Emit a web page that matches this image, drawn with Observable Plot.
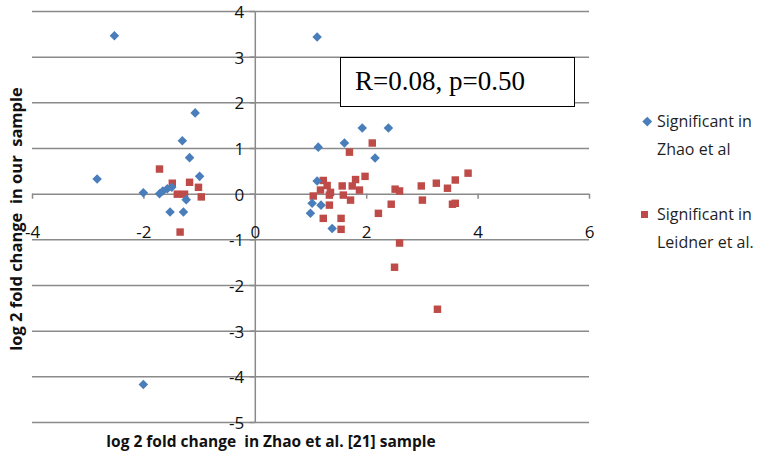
<!DOCTYPE html>
<html><head><meta charset="utf-8">
<script src="https://cdn.jsdelivr.net/npm/d3@7"></script>
<script src="https://cdn.jsdelivr.net/npm/@observablehq/plot@0.6"></script>
<style>
html,body{margin:0;padding:0;background:#fff;}
#wrap{position:relative;width:782px;height:459px;overflow:hidden;background:#fff;}
#wrap svg{position:absolute;left:0;top:0;}
.stat{position:absolute;left:340px;top:57px;width:235px;height:50px;border:1.5px solid #000;background:#fff;
  font-family:"Liberation Serif","Times New Roman",serif;font-size:27px;line-height:47px;padding-left:14px;box-sizing:border-box;color:#000;}
.leg{position:absolute;left:657px;font-family:"Open Sans",sans-serif;font-size:16px;line-height:28px;color:#1f1f1f;}
.sym{position:absolute;}
</style></head><body>
<div id="wrap"></div>
<script>
const zhaoX = [-2.53,-2.84,-1.08,-1.31,-1.18,-1.0,-2.01,-1.72,-1.66,-1.58,-1.5,-1.24,-1.53,-1.29,-2.01,1.11,1.92,2.39,1.13,1.6,2.15,1.11,1.02,1.18,0.99,1.38];
const zhaoY = [3.47,0.33,1.78,1.17,0.8,0.39,0.03,0.01,0.07,0.12,0.15,-0.12,-0.39,-0.39,-4.17,3.44,1.45,1.45,1.03,1.12,0.79,0.29,-0.2,-0.24,-0.42,-0.75];
const leidnerX = [-1.72,-1.49,-1.18,-1.02,-1.4,-1.27,-0.97,-1.35,2.1,1.69,1.97,1.8,1.22,1.29,1.56,1.74,1.87,1.17,1.35,1.04,1.58,1.33,1.71,1.33,1.22,1.54,1.54,2.21,2.44,2.51,2.59,2.59,2.98,3.0,3.25,3.45,3.59,3.82,3.54,3.59,2.5,3.27];
const leidnerY = [0.55,0.24,0.26,0.15,0.0,0.0,-0.06,-0.83,1.12,0.92,0.39,0.32,0.3,0.19,0.18,0.18,0.09,0.09,0.04,-0.04,-0.02,-0.02,-0.13,-0.24,-0.53,-0.53,-0.77,-0.42,-0.22,0.11,0.07,-1.07,0.18,-0.13,0.24,0.13,0.31,0.46,-0.22,-0.2,-1.6,-2.52];
const xTicks = [-4,-2,0,2,4,6];
const yTicks = [4,3,2,1,0,-1,-2,-3,-4,-5];
const seriesNames = ["Significant in Zhao et al", "Significant in Leidner et al."];
const statText = "R=0.08, p=0.50";
const xLabel = "log 2 fold change  in Zhao et al. [21] sample";
const yLabel = "log 2 fold change  in our  sample";
const blue = "#4a7ebb", red = "#be4b48";

const zhao = zhaoX.map((x,i)=>({x, y:zhaoY[i]}));
const leidner = leidnerX.map((x,i)=>({x, y:leidnerY[i]}));

const chart = Plot.plot({
  width:782, height:459,
  marginLeft:32, marginRight:193, marginTop:11, marginBottom:37,
  x:{domain:[-4,6], axis:null},
  y:{domain:[-5,4], axis:null},
  style:{fontFamily:"'Open Sans', sans-serif", background:"transparent", overflow:"visible"},
  marks:[
    Plot.ruleY(yTicks, {y:d=>d, x1:-4, x2:6, stroke:"#8a8a8a", strokeWidth:1.5}),
    Plot.ruleX([0], {stroke:"#8a8a8a", strokeWidth:1.5}),
    Plot.ruleX(xTicks, {x:d=>d, y1:0, y2:-0.11, stroke:"#8a8a8a", strokeWidth:1.5}),
    Plot.ruleY(yTicks, {y:d=>d, x1:0, x2:-0.09, stroke:"#8a8a8a", strokeWidth:1.5}),
    Plot.text(xTicks, {x:d=>d, y:0, dy:38, text:d=>String(d), fontSize:17, fill:"#111"}),
    Plot.text(yTicks, {x:0, y:d=>d, dx:-11, dy:1, textAnchor:"end", text:d=>String(d), fontSize:17, fill:"#111"}),
    Plot.dot(leidner, {x:"x", y:"y", symbol:"square", r:4.2, fill:red}),
    Plot.dot(zhao, {x:"x", y:"y", symbol:"diamond2", r:4.3, fill:blue, stroke:"none"}),
    Plot.text([yLabel], {text:d=>d, frameAnchor:"left", textAnchor:"middle", lineAnchor:"middle", rotate:-90, dx:-16, dy:2, fontSize:16.5, fontWeight:"bold", fill:"#111", style:"white-space:pre;letter-spacing:0.6px"}),
    Plot.text([xLabel], {text:d=>d, frameAnchor:"bottom", textAnchor:"middle", lineAnchor:"middle", dx:-40, dy:20, fontSize:15.5, fontWeight:"bold", fill:"#111"})
  ]
});
const wrap = document.getElementById("wrap");
wrap.appendChild(chart);

const st = document.createElement("div");
st.className = "stat"; st.textContent = statText; wrap.appendChild(st);

function legendItem(name, top, color, shape){
  const words = name.split(" ");
  const first = words.slice(0,2).join(" "), rest = words.slice(2).join(" ");
  const t = document.createElement("div");
  t.className = "leg"; t.style.top = (top-14)+"px";
  t.innerHTML = first + "<br>" + rest;
  wrap.appendChild(t);
  const s = document.createElement("div");
  s.className = "sym";
  if (shape==="diamond"){
    s.style.cssText = `left:${644}px;top:${top-3.5}px;width:6.5px;height:6.5px;background:${color};transform:rotate(45deg);position:absolute;`;
  } else {
    s.style.cssText = `left:${641}px;top:${top-3.5}px;width:7px;height:7px;background:${color};position:absolute;`;
  }
  wrap.appendChild(s);
}
legendItem(seriesNames[0], 121, blue, "diamond");
legendItem(seriesNames[1], 214, red, "square");
</script>
</body></html>
